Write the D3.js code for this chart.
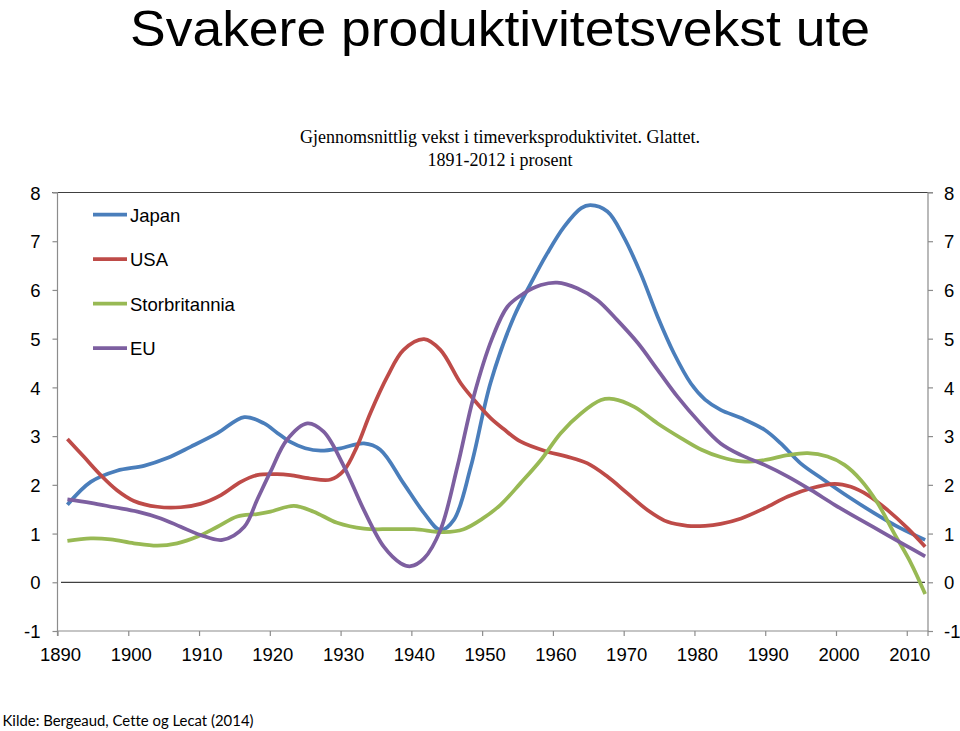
<!DOCTYPE html>
<html><head><meta charset="utf-8">
<script src="https://cdn.jsdelivr.net/npm/d3@7"></script>
<style>body{margin:0;background:#fff} svg{display:block} text{font-variant-ligatures:none}</style>
</head><body><svg id="c" width="960" height="731"></svg>
<script>
const seriesNames = ["Japan", "USA", "Storbritannia", "EU"];
const seriesColors = ["#4A7EBB", "#BE4B48", "#98B954", "#7D5FA0"];

const japan = [[1891.4,1.59],[1894.7,2.06],[1898.4,2.29],[1902.2,2.39],[1905.5,2.55],[1908.8,2.78],[1912.6,3.06],[1916.4,3.39],[1919.2,3.26],[1921.1,3.06],[1922.9,2.88],[1925,2.75],[1927.2,2.70],[1930,2.75],[1933.3,2.85],[1935.6,2.72],[1938.9,2.03],[1941.8,1.42],[1944.1,1.07],[1946,1.28],[1948.4,2.37],[1951.2,4.1],[1954.5,5.45],[1956.9,6.14],[1959.2,6.75],[1961.6,7.30],[1964,7.68],[1965.3,7.74],[1967.7,7.61],[1970,7.09],[1972.4,6.34],[1974.8,5.45],[1977.1,4.70],[1979.5,4.08],[1981.5,3.75],[1983.7,3.54],[1986.6,3.37],[1989.9,3.13],[1992.2,2.85],[1995,2.44],[1998.3,2.10],[2001.7,1.76],[2005.4,1.42],[2009.1,1.11],[2012.6,0.87]];
const usa = [[1891.4,2.94],[1893.7,2.58],[1896.1,2.20],[1898.4,1.89],[1900.8,1.67],[1904.1,1.55],[1907.4,1.54],[1910.2,1.61],[1913.1,1.79],[1915.9,2.06],[1918.2,2.20],[1921,2.22],[1922.9,2.20],[1925.7,2.13],[1928.6,2.11],[1930.5,2.30],[1932.3,2.78],[1934.2,3.47],[1936.6,4.22],[1938.9,4.77],[1941.8,4.99],[1944.1,4.77],[1947,4.08],[1949.3,3.67],[1951.2,3.37],[1953,3.15],[1955.4,2.89],[1959.2,2.68],[1962,2.58],[1964.9,2.44],[1967.7,2.17],[1970.5,1.83],[1973.4,1.48],[1976.2,1.24],[1979,1.16],[1981.5,1.16],[1983.7,1.20],[1986.6,1.31],[1989.9,1.52],[1993.2,1.76],[1996.5,1.93],[1999.8,2.02],[2002.1,1.96],[2004.5,1.79],[2007.3,1.48],[2010.1,1.11],[2012.6,0.73]];
const storbritannia = [[1891.4,0.85],[1894.7,0.90],[1897.5,0.88],[1900.8,0.80],[1904.1,0.75],[1906.9,0.80],[1909.8,0.94],[1912.6,1.14],[1915.4,1.35],[1918.2,1.40],[1920.1,1.45],[1923.4,1.57],[1926.2,1.45],[1929.5,1.22],[1933.3,1.10],[1937,1.09],[1940.4,1.09],[1944.6,1.03],[1947.4,1.09],[1950,1.30],[1952.6,1.59],[1955.4,2.03],[1958.3,2.51],[1961.1,3.06],[1964,3.47],[1966.8,3.74],[1968.6,3.76],[1971.5,3.60],[1974.8,3.26],[1978.1,2.96],[1981,2.72],[1983.7,2.57],[1986.6,2.48],[1989.9,2.51],[1993.2,2.61],[1996,2.65],[1998.8,2.58],[2001.2,2.41],[2003.5,2.10],[2005.9,1.62],[2008.2,1.01],[2010.6,0.39],[2012.6,-0.24]];
const eu = [[1891.4,1.70],[1894.7,1.63],[1898,1.54],[1901.3,1.45],[1904.6,1.31],[1907.4,1.14],[1910.2,0.97],[1913.3,0.87],[1916.4,1.14],[1918.2,1.69],[1920.1,2.27],[1922.4,2.92],[1925.3,3.26],[1927.6,3.09],[1930.5,2.37],[1933.3,1.48],[1936.1,0.73],[1938.5,0.39],[1939.9,0.33],[1941.8,0.49],[1944.1,1.07],[1946.5,2.37],[1948.8,3.81],[1951.4,5.0],[1953.6,5.66],[1955.9,5.93],[1958.3,6.10],[1960.6,6.15],[1963.5,6.03],[1966.3,5.79],[1969.1,5.38],[1972,4.91],[1974.8,4.36],[1977.6,3.81],[1980.6,3.30],[1983.7,2.85],[1986.6,2.61],[1989.9,2.41],[1993.2,2.17],[1996.5,1.89],[1999.8,1.59],[2003.1,1.31],[2006.4,1.04],[2009.7,0.77],[2012.6,0.53]];

const xTicks = [1890,1900,1910,1920,1930,1940,1950,1960,1970,1980,1990,2000,2010];
const yTicks = [-1,0,1,2,3,4,5,6,7,8];

const titleText = "Svakere produktivitetsvekst ute";
const subtitleLines = ["Gjennomsnittlig vekst i timeverksproduktivitet. Glattet.", "1891-2012 i prosent"];
const sourceText = "Kilde: Bergeaud, Cette og Lecat (2014)";

const allSeries = [japan, usa, storbritannia, eu];

const svg = d3.select("#c");
const x = d3.scaleLinear().domain([1890, 2013]).range([57.5, 928]);
const y = d3.scaleLinear().domain([-1, 8]).range([631, 192.5]);

const axisColor = "#8c8c8c";
const labelFont = "'Liberation Sans', Arial, sans-serif";
const fmt = d => String(d);

// title
svg.append("text").attr("x", 500).attr("y", 46).attr("text-anchor", "middle")
  .attr("font-family", "'Liberation Sans', Arial, sans-serif").attr("font-size", 50)
  .attr("textLength", 740).attr("lengthAdjust", "spacingAndGlyphs")
  .attr("fill", "#000").text(titleText);

subtitleLines.forEach((t, i) => {
  svg.append("text").attr("x", 500).attr("y", 143 + i * 23).attr("text-anchor", "middle")
    .attr("font-family", "'Liberation Serif', 'Times New Roman', serif").attr("font-size", 18)
    .attr("fill", "#000").text(t);
});

// top border line
svg.append("line").attr("x1", 52).attr("x2", 933).attr("y1", 192.5).attr("y2", 192.5)
  .attr("stroke", "#404040").attr("stroke-width", 1.2);

// left axis
const gl = svg.append("g").attr("transform", "translate(57.5,0)")
  .call(d3.axisLeft(y).tickValues(yTicks).tickSize(5).tickPadding(12).tickFormat(fmt));
// right axis
const gr = svg.append("g").attr("transform", "translate(928,0)")
  .call(d3.axisRight(y).tickValues(yTicks).tickSize(5).tickPadding(12).tickFormat(fmt));
// bottom axis
const gb = svg.append("g").attr("transform", "translate(0,631)")
  .call(d3.axisBottom(x).tickValues(xTicks).tickSize(5).tickPadding(12).tickFormat(fmt));

[gl, gr, gb].forEach(g => {
  g.select(".domain").attr("stroke", axisColor).attr("stroke-width", 1.2);
  g.selectAll(".tick line").attr("stroke", axisColor).attr("stroke-width", 1.2);
  g.selectAll(".tick text").attr("font-family", labelFont).attr("font-size", 18.5).attr("fill", "#000");
});
gl.select(".domain").attr("d", `M-5,${y(8)}H0V${y(-1)}`);
gr.select(".domain").attr("d", `M5,${y(8)}H0V${y(-1)}`);
gb.select(".domain").attr("d", `M${x(1890)},5V0H${x(2013)}V5`);
gb.selectAll(".tick text").attr("dy", null).attr("y", 30).attr("dx", 2.5);
gl.selectAll(".tick text").attr("dy", "0.36em");
gr.selectAll(".tick text").attr("dy", "0.36em").attr("x", 16);

// zero line
svg.append("line").attr("x1", 61).attr("x2", 925).attr("y1", y(0)).attr("y2", y(0))
  .attr("stroke", "#404040").attr("stroke-width", 1.3);

// series lines
const line = d3.line().x(d => x(d[0])).y(d => y(d[1])).curve(d3.curveCatmullRom.alpha(0.5));
allSeries.forEach((s, i) => {
  svg.append("path").datum(s).attr("d", line).attr("fill", "none")
    .attr("stroke", seriesColors[i]).attr("stroke-width", 3.75)
    .attr("stroke-linejoin", "round");
});

// legend
const legendY = [214.5, 259, 303.5, 348];
seriesNames.forEach((n, i) => {
  svg.append("line").attr("x1", 93).attr("x2", 127).attr("y1", legendY[i]).attr("y2", legendY[i])
    .attr("stroke", seriesColors[i]).attr("stroke-width", 3.75);
  svg.append("text").attr("x", 130).attr("y", legendY[i] + 7)
    .attr("font-family", labelFont).attr("font-size", 18.5).attr("fill", "#000").text(n);
});

// source
svg.append("text").attr("x", 2.5).attr("y", 726)
  .attr("font-family", "Lato, 'Open Sans', sans-serif").attr("font-size", 15.5)
  .attr("textLength", 251).attr("lengthAdjust", "spacingAndGlyphs")
  .attr("fill", "#000").text(sourceText);
</script>
</body></html>
